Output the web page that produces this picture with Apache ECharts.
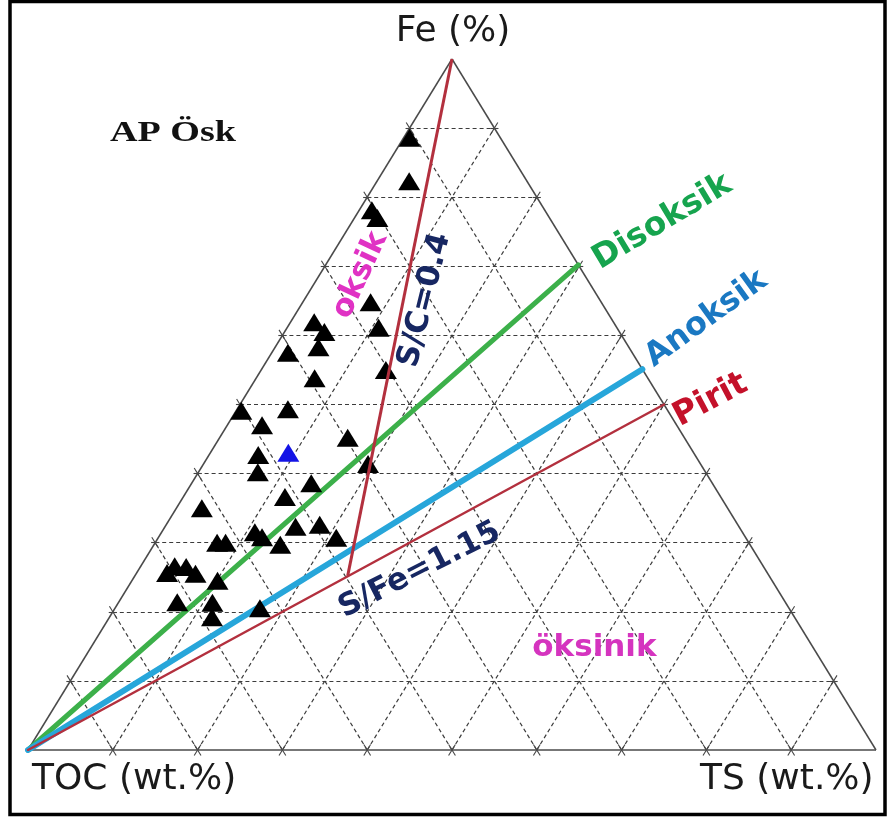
<!DOCTYPE html>
<html>
<head>
<meta charset="utf-8">
<script src="https://cdn.jsdelivr.net/npm/echarts@6/dist/echarts.min.js"></script>
<style>
  html, body { margin: 0; padding: 0; background: #fff; }
  #chart { width: 888px; height: 818px; }
</style>
</head>
<body>
<div id="chart"></div>
<script>
// Sample compositions, as % of TOC + Fe + TS
const sampleTOC = [10.7, 13.9, 20.4, 20.3, 27.2, 28.1, 35.3, 34.8, 36.6, 40.6, 39.3, 30.3, 50.3, 44.7, 48.9, 39.7, 51.5, 52.8, 39.2, 47.3, 51.4, 62.0, 57.5, 57.0, 52.3, 49.3, 48.3, 55.4, 62.7, 61.7, 69.4, 68.1, 70.8, 67.5, 65.4, 71.7, 67.6, 68.7, 62.4];
const sampleFe  = [88.6, 82.3, 78.1, 77.0, 64.8, 61.1, 61.9, 60.5, 58.3, 57.5, 53.8, 55.0, 49.1, 49.3, 47.0, 45.2, 42.7, 40.2, 41.4, 38.6, 36.6, 35.0, 31.5, 30.8, 32.3, 32.6, 30.7, 29.7, 30.0, 30.0, 26.6, 26.5, 25.6, 25.5, 24.5, 21.4, 21.3, 19.2, 20.5];
const sampleTS  = [0.7, 3.8, 1.5, 2.7, 8.0, 10.8, 2.8, 4.7, 5.1, 1.9, 6.9, 14.7, 0.6, 6.0, 4.1, 15.1, 5.8, 7.0, 19.4, 14.1, 12.0, 3.0, 11.0, 12.2, 15.4, 18.1, 21.0, 14.9, 7.3, 8.3, 4.0, 5.4, 3.6, 7.0, 10.1, 6.9, 11.1, 12.1, 17.1];

// Highlighted sample
const markedTOC = [47.8];
const markedFe  = [43.0];
const markedTS  = [9.2];

// Boundaries drawn from the TOC apex to the Fe–TS edge
const boundaryNames = ['Disoksik', 'Anoksik', 'Pirit'];
const boundaryFe = [70.2, 55.1, 50.0];
const boundaryTS = [29.8, 44.9, 50.0];

// S/C = 0.4 line: from the Fe apex down to the pyrite line
const scLineTOC = [0, 49.7];
const scLineFe  = [100, 25.2];
const scLineTS  = [0, 25.1];

// Grid steps (%) on every side
const gridSteps = [10, 20, 30, 40, 50, 60, 70, 80, 90];

// Ternary (TOC, Fe, TS) -> plane: TOC apex at left, TS apex at right, Fe apex on top
function toXY(toc, fe, ts) {
  const s = toc + fe + ts;
  const f = fe / s * 100, t = ts / s * 100;
  return [t + f / 2, f];
}

// Grid lines parallel to each side
const gridSegs = [];
gridSteps.forEach(function (a) {
  gridSegs.push({ coords: [toXY(100 - a, a, 0), toXY(0, a, 100 - a)] });   // Fe constant
  gridSegs.push({ coords: [toXY(100 - a, 0, a), toXY(0, 100 - a, a)] });   // TS constant
  gridSegs.push({ coords: [toXY(a, 0, 100 - a), toXY(a, 100 - a, 0)] });   // TOC constant
});

// Small crossing ticks where the grid lines meet the sides
const tk = 0.8;
function tickAt(p, d) {
  return { coords: [toXY(p[0] - tk * d[0], p[1] - tk * d[1], p[2] - tk * d[2]),
                    toXY(p[0] + tk * d[0], p[1] + tk * d[1], p[2] + tk * d[2])] };
}
const tickSegs = [];
gridSteps.forEach(function (a) {
  const bottom = [100 - a, 0, a], left = [100 - a, a, 0], right = [0, a, 100 - a];
  tickSegs.push(tickAt(bottom, [1, -1, 0]), tickAt(bottom, [0, -1, 1]));
  tickSegs.push(tickAt(left, [0.6, 0, -0.6]), tickAt(left, [0, -1, 1]));
  tickSegs.push(tickAt(right, [0.6, 0, -0.6]), tickAt(right, [1, -1, 0]));
});

const edgeSegs = [
  { coords: [toXY(100, 0, 0), toXY(0, 0, 100)] },
  { coords: [toXY(0, 0, 100), toXY(0, 100, 0)] },
  { coords: [toXY(0, 100, 0), toXY(100, 0, 0)] }
];

const boundaryStyle = {
  Disoksik: { color: '#3cb04a', width: 5 },
  Anoksik:  { color: '#27a6da', width: 6 },
  Pirit:    { color: '#b3303e', width: 2.5 }
};

const boundarySeries = boundaryNames.map(function (name, i) {
  return {
    type: 'lines', coordinateSystem: 'cartesian2d', silent: true, z: name === 'Pirit' ? 6 : 3,
    lineStyle: { color: boundaryStyle[name].color, width: boundaryStyle[name].width, opacity: 1, cap: 'round' },
    data: [{ coords: [toXY(100, 0, 0), toXY(100 - boundaryFe[i] - boundaryTS[i], boundaryFe[i], boundaryTS[i])] }]
  };
});

const samplePts = sampleTOC.map(function (v, i) { return toXY(v, sampleFe[i], sampleTS[i]); });
const markedPts = markedTOC.map(function (v, i) { return toXY(v, markedFe[i], markedTS[i]); });

// Annotation texts placed in plot coordinates
function note(text, x, y, rot, color, size) {
  return {
    value: [x, y],
    itemStyle: { opacity: 1 },
    label: { show: true, formatter: text, rotate: rot, color: color, fontSize: size, opacity: 1,
             fontFamily: 'DejaVu Sans', fontWeight: 'bold', position: 'inside',
             align: 'center', verticalAlign: 'middle' }
  };
}

const chart = echarts.init(document.getElementById('chart'), null, { renderer: 'canvas' });
chart.setOption({
  animation: false,
  backgroundColor: '#ffffff',
  grid: { left: 28, top: 59, width: 848, height: 691 },
  xAxis: { type: 'value', min: 0, max: 100, show: false },
  yAxis: { type: 'value', min: 0, max: 100, show: false },
  series: [
    { type: 'lines', coordinateSystem: 'cartesian2d', silent: true, z: 1, clip: false,
      lineStyle: { color: '#3c3c3c', width: 1.2, type: [4, 3], opacity: 1 }, data: gridSegs },
    { type: 'lines', coordinateSystem: 'cartesian2d', silent: true, z: 2, clip: false,
      lineStyle: { color: '#444', width: 1.1, opacity: 1 }, data: tickSegs },
    { type: 'lines', coordinateSystem: 'cartesian2d', silent: true, z: 2, clip: false,
      lineStyle: { color: '#4a4a4a', width: 1.5, opacity: 1 }, data: edgeSegs },
    boundarySeries[0], boundarySeries[1],
    { type: 'scatter', symbol: 'triangle', symbolSize: [22, 18], z: 4, silent: true,
      itemStyle: { color: '#000', opacity: 1 }, data: samplePts },
    { type: 'scatter', symbol: 'triangle', symbolSize: [22, 18], z: 4, silent: true,
      itemStyle: { color: '#1414e6', opacity: 1 }, data: markedPts },
    boundarySeries[2],
    { type: 'lines', coordinateSystem: 'cartesian2d', silent: true, z: 6,
      lineStyle: { color: '#b3303e', width: 3, opacity: 1 },
      data: [{ coords: [toXY(scLineTOC[0], scLineFe[0], scLineTS[0]), toXY(scLineTOC[1], scLineFe[1], scLineTS[1])] }] },
    { type: 'scatter', symbolSize: 0, silent: true, z: 8, clip: false,
      itemStyle: { opacity: 1 },
      emphasis: { disabled: true },
      data: [
        note('Disoksik', 74.8, 76.4, 31, '#16a44e', 33),
        note('Anoksik', 80.0, 62.4, 36, '#1a78c2', 32),
        note('Pirit', 80.5, 50.6, 28, '#c4112a', 33),
        note('S/C=0.4', 46.8, 65.1, 76, '#172762', 31),
        note('oksik', 39.2, 68.7, 65, '#e032c4', 31),
        note('S/Fe=1.15', 46.2, 26.0, 27, '#172762', 31),
        note('öksinik', 66.8, 14.8, 0, '#d534bf', 31)
      ] }
  ],
  graphic: [
    { type: 'text', x: 453, y: 32, style: { text: 'Fe (%)', fill: '#1a1a1a', font: '36px "DejaVu Sans"', align: 'center', verticalAlign: 'middle' } },
    { type: 'text', x: 32, y: 780, style: { text: 'TOC (wt.%)', fill: '#1a1a1a', font: '36px "DejaVu Sans"', align: 'left', verticalAlign: 'middle' } },
    { type: 'text', x: 700, y: 780, style: { text: 'TS (wt.%)', fill: '#1a1a1a', font: '36px "DejaVu Sans"', align: 'left', verticalAlign: 'middle' } },
    { type: 'text', x: 110, y: 133, scaleX: 1.27, style: { text: 'AP Ösk', fill: '#111', font: 'bold 30px "Liberation Serif"', align: 'left', verticalAlign: 'middle' } },
    { type: 'rect', shape: { x: 10, y: 1.5, width: 875, height: 813 }, style: { fill: 'none', stroke: '#000', lineWidth: 3.5 }, z: 100 }
  ]
});
</script>
</body>
</html>
